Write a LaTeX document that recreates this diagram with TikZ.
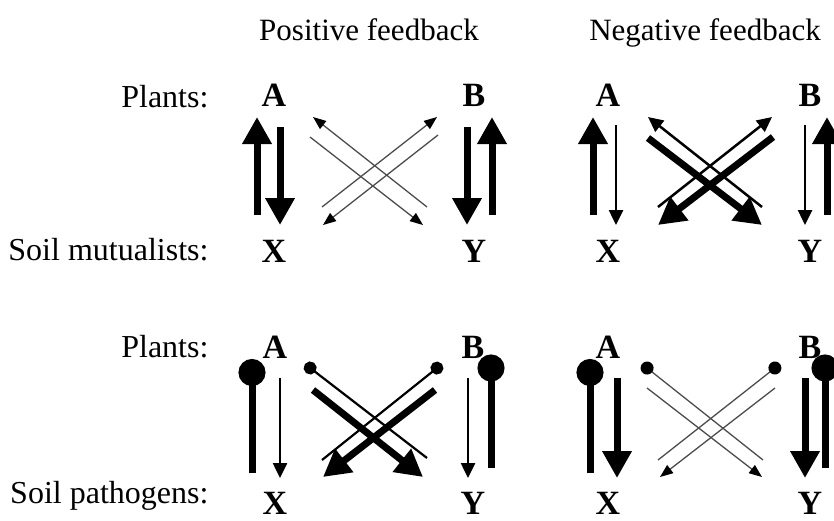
\documentclass[tikz,border=0pt]{standalone}
\usepackage{fontspec}
\setmainfont{Liberation Serif}
\usetikzlibrary{arrows.meta,calc}

\begin{document}
\begin{tikzpicture}[
        x=1pt, y=-1pt,
        label/.style={anchor=base east, font=\fontsize{32}{38}\selectfont},
        title/.style={anchor=base, font=\fontsize{31}{37}\selectfont},
        species/.style={inner sep=0pt, font=\fontsize{34}{40}\selectfont\bfseries},
        bigarrow/.style={line width=7pt, -{Triangle[length=27pt,width=28pt]}},
        smallarrow/.style={line width=2.5pt, -{Triangle[length=15pt,width=14pt]}},
        finearrow/.style={line width=1.3pt, draw=black!70, -{Triangle[length=13pt,width=10pt,color=black]}},
        bigdot/.style={line width=7pt, -{Circle[length=27pt]}},
        smalldot/.style={line width=2.2pt, -{Circle[length=13pt]}},
        finedot/.style={line width=1.3pt, draw=black!70, -{Circle[length=13pt,color=black]}}
    ]
    \useasboundingbox (0,0) rectangle (834,520);

    % Titles and row labels
    \node[title] (posTitle) at (369,40) {Positive feedback};
    \node[title] (negTitle) at (705,40) {Negative feedback};
    \node[label] (plantsTop) at (212,107) {Plants:};
    \node[label] (mutualists) at (212,260) {Soil mutualists:};
    \node[label] (plantsBottom) at (212,357) {Plants:};
    \node[label] (pathogens) at (212,503) {Soil pathogens:};

    % Positive feedback, mutualists
    \node[species] (A1) at (274,95) {A};
    \node[species] (B1) at (474,95) {B};
    \node[species] (X1) at (274,251) {X};
    \node[species] (Y1) at (474,251) {Y};
    \draw[bigarrow] ($(X1)+(-17,-36)$) -- ($(A1)+(-17,22)$);
    \draw[bigarrow] ($(A1)+(6,32)$) -- ($(X1)+(6,-26)$);
    \draw[bigarrow] ($(B1)+(-7,32)$) -- ($(Y1)+(-7,-26)$);
    \draw[bigarrow] ($(Y1)+(18,-36)$) -- ($(B1)+(18,22)$);
    \draw[finearrow] ($(Y1)+(-47,-44)$) -- ($(A1)+(39,22)$);
    \draw[finearrow] ($(A1)+(36,42)$) -- ($(Y1)+(-51,-26)$);
    \draw[finearrow] ($(X1)+(48,-44)$) -- ($(B1)+(-37,22)$);
    \draw[finearrow] ($(B1)+(-36,40)$) -- ($(X1)+(49,-26)$);

    % Negative feedback, mutualists
    \node[species] (A2) at (608,95) {A};
    \node[species] (B2) at (810,95) {B};
    \node[species] (X2) at (608,251) {X};
    \node[species] (Y2) at (810,251) {Y};
    \draw[bigarrow] ($(X2)+(-15,-36)$) -- ($(A2)+(-15,22)$);
    \draw[smallarrow] ($(A2)+(8,30)$) -- ($(X2)+(8,-26)$);
    \draw[smallarrow] ($(B2)+(-5,30)$) -- ($(Y2)+(-5,-26)$);
    \draw[bigarrow] ($(Y2)+(17,-36)$) -- ($(B2)+(17,22)$);
    \draw[smallarrow] ($(Y2)+(-48,-44)$) -- ($(A2)+(40,22)$);
    \draw[bigarrow] ($(A2)+(40,43)$) -- ($(Y2)+(-48,-26)$);
    \draw[smallarrow] ($(X2)+(50,-44)$) -- ($(B2)+(-38,22)$);
    \draw[bigarrow] ($(B2)+(-37,42)$) -- ($(X2)+(50,-26)$);

    % Positive feedback, pathogens
    \node[species] (A3) at (275,347) {A};
    \node[species] (B3) at (473,347) {B};
    \node[species] (X3) at (275,503) {X};
    \node[species] (Y3) at (473,503) {Y};
    \draw[bigdot] ($(X3)+(-23,-30)$) -- ($(A3)+(-23,12)$);
    \draw[smallarrow] ($(A3)+(5,31)$) -- ($(X3)+(5,-25)$);
    \draw[smallarrow] ($(B3)+(-5,31)$) -- ($(Y3)+(-5,-25)$);
    \draw[bigdot] ($(Y3)+(18,-35)$) -- ($(B3)+(18,7.5)$);
    \draw[smalldot] ($(Y3)+(-46,-45)$) -- ($(A3)+(30,17)$);
    \draw[bigarrow] ($(A3)+(38,43)$) -- ($(Y3)+(-50,-26)$);
    \draw[smalldot] ($(X3)+(47,-43)$) -- ($(B3)+(-31,17)$);
    \draw[bigarrow] ($(B3)+(-38,43)$) -- ($(X3)+(48,-26)$);

    % Negative feedback, pathogens
    \node[species] (A4) at (608,347) {A};
    \node[species] (B4) at (810,347) {B};
    \node[species] (X4) at (608,503) {X};
    \node[species] (Y4) at (810,503) {Y};
    \draw[bigdot] ($(X4)+(-18,-30)$) -- ($(A4)+(-18,12)$);
    \draw[bigarrow] ($(A4)+(9,31)$) -- ($(X4)+(9,-25)$);
    \draw[bigarrow] ($(B4)+(-5,31)$) -- ($(Y4)+(-5,-25)$);
    \draw[bigdot] ($(Y4)+(15,-35)$) -- ($(B4)+(15,7.5)$);
    \draw[finedot] ($(Y4)+(-47,-43)$) -- ($(A4)+(34,17)$);
    \draw[finearrow] ($(A4)+(39,41)$) -- ($(Y4)+(-48,-26)$);
    \draw[finedot] ($(X4)+(50,-43)$) -- ($(B4)+(-30,17)$);
    \draw[finearrow] ($(B4)+(-35,41)$) -- ($(X4)+(52,-26)$);
\end{tikzpicture}
\end{document}
